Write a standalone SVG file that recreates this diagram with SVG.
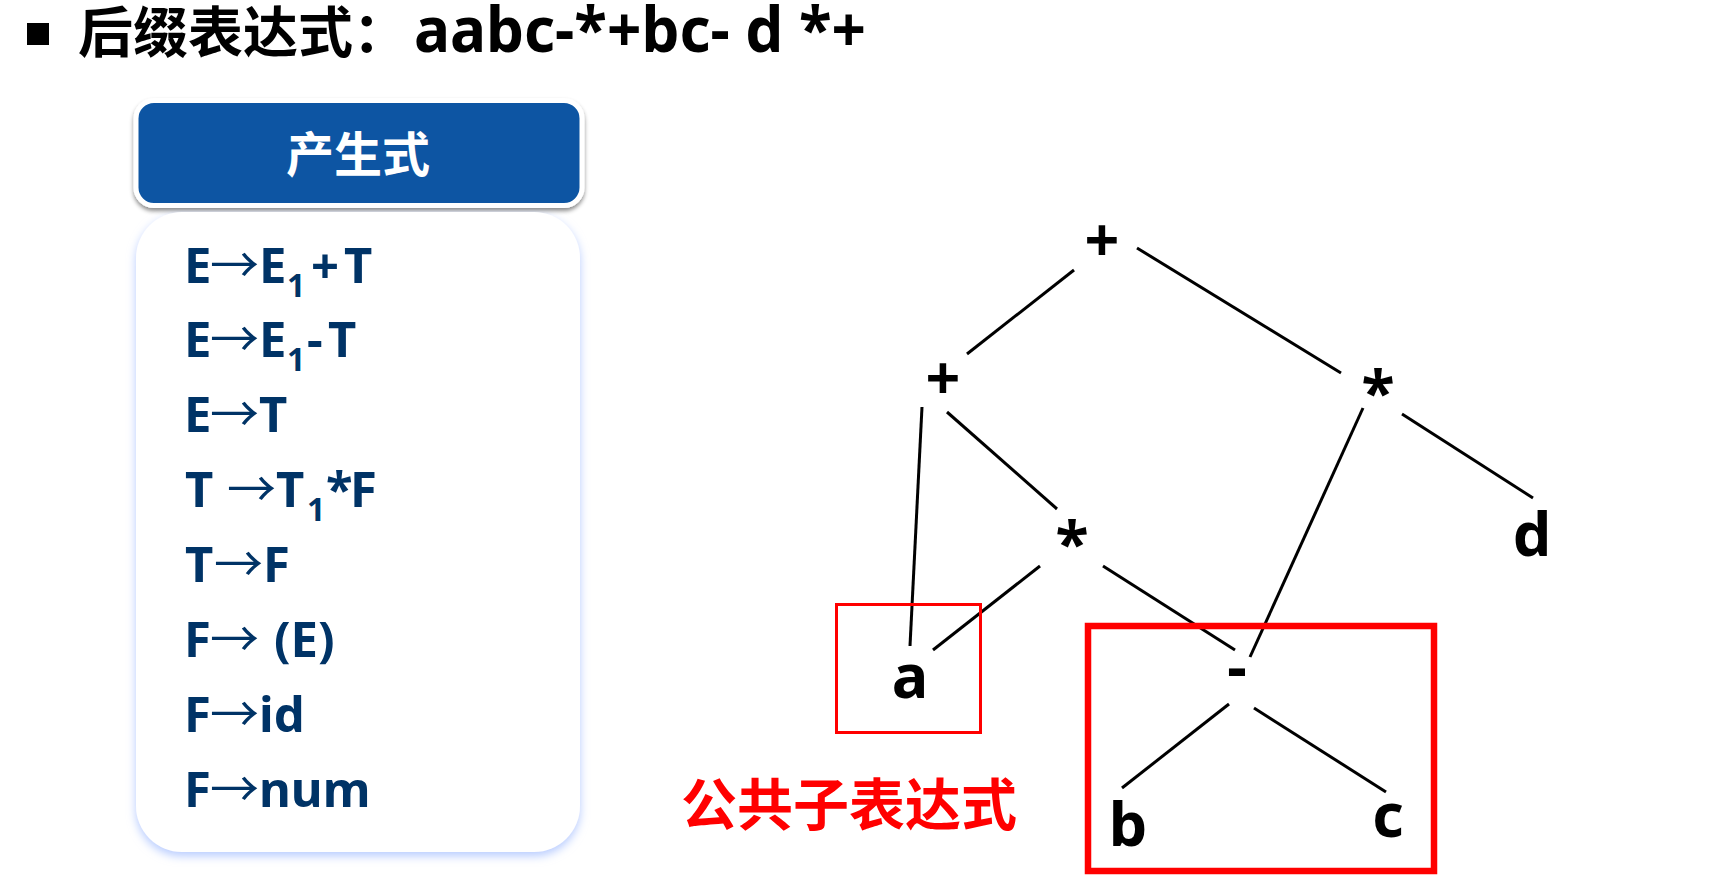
<svg xmlns="http://www.w3.org/2000/svg" width="1712" height="894" viewBox="0 0 1712 894">
<defs>
<filter id="glow" x="-10%" y="-10%" width="120%" height="120%">
<feDropShadow dx="0" dy="4" stdDeviation="5" flood-color="#9fbaff" flood-opacity="0.75"/>
</filter>
<filter id="hshadow" x="-10%" y="-20%" width="120%" height="150%">
<feDropShadow dx="0" dy="3" stdDeviation="2" flood-color="#000" flood-opacity="0.45"/>
</filter>
</defs>
<style>
.title{font-family:"Noto Sans","Noto Sans CJK SC",sans-serif;font-weight:700;fill:#000}
.cjk{font-family:"Noto Sans CJK SC",sans-serif;font-weight:700}
.prod{font-family:"Noto Sans","Noto Sans CJK SC",sans-serif;font-weight:700;font-size:49px;fill:#003366}
.arr{font-family:"Noto Sans CJK SC",sans-serif;font-weight:400}
.sub{font-size:32px}
.node{font-family:"Noto Sans",sans-serif;font-weight:700;font-size:61px;fill:#000;text-anchor:middle}
.edge{stroke:#000;stroke-width:3;fill:none}
.mark{fill:none;stroke:#ff0000}
</style>

<g id="title">
<rect x="27" y="23" width="22" height="22" fill="#000"/>
<text class="title" y="52"><tspan class="cjk" x="78" font-size="55">后缀表达式：</tspan><tspan x="414" font-size="62" textLength="452" lengthAdjust="spacingAndGlyphs">aabc-*+bc- d *+</tspan></text>
</g>

<g id="header">
<rect x="136" y="100.5" width="446" height="105" rx="18" fill="#0b55a3" stroke="#fff" stroke-width="5" filter="url(#hshadow)"/>
<text x="358" y="172" class="cjk" font-size="48" fill="#fff" text-anchor="middle">产生式</text>
</g>

<g id="productions">
<rect x="136" y="212" width="444" height="640" rx="46" fill="#fff" filter="url(#glow)"/>
<text class="prod" y="283"><tspan x="184">E</tspan><tspan class="arr" x="210">→</tspan><tspan x="259">E</tspan><tspan class="sub" x="287" y="297">1</tspan><tspan x="311" y="283">+</tspan><tspan x="344">T</tspan></text>
<text class="prod" y="357"><tspan x="184">E</tspan><tspan class="arr" x="210">→</tspan><tspan x="259">E</tspan><tspan class="sub" x="287" y="371">1</tspan><tspan x="307" y="357">-</tspan><tspan x="328">T</tspan></text>
<text class="prod" y="432"><tspan x="184">E</tspan><tspan class="arr" x="210">→</tspan><tspan x="259">T</tspan></text>
<text class="prod" y="507"><tspan x="185">T</tspan><tspan class="arr" x="227">→</tspan><tspan x="276">T</tspan><tspan class="sub" x="307" y="521">1</tspan><tspan x="326" y="507">*</tspan><tspan x="350">F</tspan></text>
<text class="prod" y="582"><tspan x="185">T</tspan><tspan class="arr" x="214">→</tspan><tspan x="263">F</tspan></text>
<text class="prod" y="657"><tspan x="184">F</tspan><tspan class="arr" x="210">→</tspan><tspan x="274">(E)</tspan></text>
<text class="prod" y="732"><tspan x="184">F</tspan><tspan class="arr" x="210">→</tspan><tspan x="259">id</tspan></text>
<text class="prod" y="807"><tspan x="184">F</tspan><tspan class="arr" x="210">→</tspan><tspan x="259">num</tspan></text>
</g>

<g id="connectors">
<line class="edge" x1="1074" y1="270" x2="967" y2="354"/>
<line class="edge" x1="1137" y1="248" x2="1341" y2="373"/>
<line class="edge" x1="922" y1="407" x2="910" y2="646"/>
<line class="edge" x1="947" y1="412" x2="1057" y2="509"/>
<line class="edge" x1="1040" y1="566" x2="933" y2="650"/>
<line class="edge" x1="1103" y1="566" x2="1235" y2="650"/>
<line class="edge" x1="1363" y1="408" x2="1250" y2="657"/>
<line class="edge" x1="1402" y1="414" x2="1533" y2="498"/>
<line class="edge" x1="1229" y1="704" x2="1122" y2="788"/>
<line class="edge" x1="1254" y1="708" x2="1386" y2="792"/>
</g>

<g id="n-root"><text class="node" x="1102" y="262">+</text></g>
<g id="n-plus"><text class="node" x="943" y="400">+</text></g>
<g id="n-star-right"><text class="node" x="1378" y="414">*</text></g>
<g id="n-star-mid"><text class="node" x="1072" y="565">*</text></g>
<g id="n-a"><text class="node" x="910" y="698">a</text></g>
<g id="n-minus"><text class="node" x="1237" y="689">-</text></g>
<g id="n-b"><text class="node" x="1128" y="846">b</text></g>
<g id="n-c"><text class="node" x="1388" y="837">c</text></g>
<g id="n-d"><text class="node" x="1532" y="556">d</text></g>

<g id="common-subexpr">
<rect class="mark" x="836.5" y="604.5" width="144" height="128" stroke-width="3"/>
<rect class="mark" x="1088" y="626" width="346" height="245" stroke-width="6.5"/>
<text x="681" y="825" class="cjk" font-size="56" fill="#ff0000">公共子表达式</text>
</g>
</svg>
